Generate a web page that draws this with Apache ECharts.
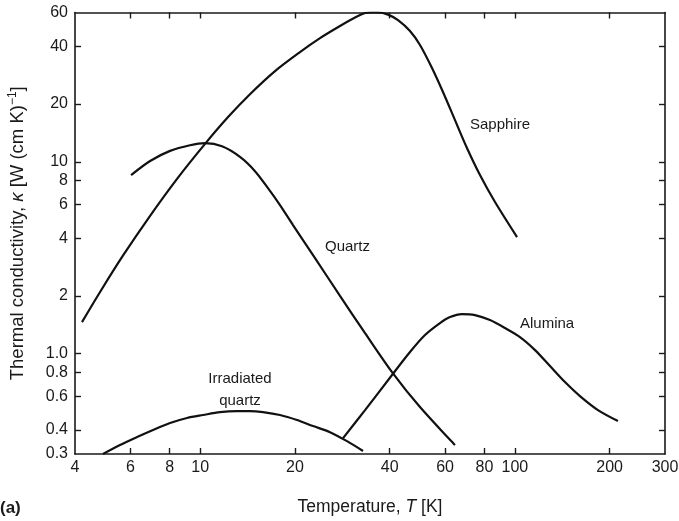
<!DOCTYPE html>
<html>
<head>
<meta charset="utf-8">
<script src="https://cdn.jsdelivr.net/npm/echarts@6/dist/echarts.min.js"></script>
<style>
html,body{margin:0;padding:0;background:#fff;}
#c{width:679px;height:521px;}
</style>
</head>
<body>
<div id="c"></div>
<script>
// Tick values
const xTicks = [4, 6, 8, 10, 20, 40, 60, 80, 100, 200, 300];
const yTicks = [0.3, 0.4, 0.6, 0.8, 1, 2, 4, 6, 8, 10, 20, 40, 60];

// Series data: [Temperature K, thermal conductivity W/(cm K)]
const sapphire = [[4.21,1.46],[4.80,2.09],[5.68,3.24],[6.93,5.23],[8.50,8.27],[10.36,12.4],[12.26,17.1],[14.39,22.5],[17.29,29.7],[20.75,37.3],[24.03,44.1],[27.81,51.0],[31.26,56.8],[33.41,59.6],[34.89,60],[36.73,60],[39.53,58.5],[42.53,54.7],[46.42,48.0],[49.94,40.6],[54.53,30.8],[59.09,23.1],[64.52,16.5],[70.43,11.8],[77.47,8.53],[86.47,6.17],[101.6,4.05]];
const quartz = [[6.03,8.53],[6.93,10.1],[8.02,11.4],[9.28,12.2],[10.36,12.5],[11.73,12.04],[13.38,10.6],[14.93,8.94],[16.42,7.29],[17.93,5.95],[19.72,4.68],[21.53,3.77],[23.17,3.15],[27.81,2.0],[33.41,1.28],[40.7,0.802],[49.94,0.527],[64.52,0.334]];
const alumina = [[28.44,0.363],[33.41,0.508],[40.7,0.774],[46.42,1.02],[51.8,1.25],[57.81,1.443],[62.21,1.551],[67.9,1.608],[74.68,1.589],[83.36,1.496],[93.01,1.36],[103.8,1.22],[115.9,1.044],[129.3,0.862],[144.3,0.711],[161.0,0.601],[183.7,0.508],[212.6,0.4455]];
const irradiatedQuartz = [[4.91,0.3],[5.56,0.334],[6.30,0.3675],[7.08,0.40],[8.02,0.435],[9.08,0.462],[10.21,0.479],[11.56,0.496],[13.09,0.502],[14.39,0.502],[15.83,0.496],[17.93,0.479],[20.3,0.451],[22.83,0.4195],[25.85,0.39],[29.28,0.35],[32.92,0.311]];

const FONT = '"Liberation Sans", Arial, Helvetica, sans-serif';
const INK = '#1a1a1a';

function fmt(v){
  const r = Math.round(v*100)/100;
  if (r === 1) return '1.0';
  return String(r);
}

const axisLine = {show:true, lineStyle:{color:INK, width:1.6}};
function richName(fs){
  return {
    n:{fontSize:fs,fontFamily:FONT,color:INK},
    i:{fontSize:fs,fontFamily:FONT,color:INK,fontStyle:'italic'},
    s:{fontSize:Math.round(fs*0.65),fontFamily:FONT,color:INK,padding:[0,0,9,0]}
  };
}
function xAx(pos, showLabel){
  return {
    type:'log', position:pos, min:4, max:300, logBase:10,
    axisLine: axisLine,
    splitLine:{show:false},
    minorTick:{show:false},
    axisTick:{show:true, inside:true, length:6, customValues: xTicks.slice(1,-1), lineStyle:{color:INK, width:1.4}},
    axisLabel:{show:showLabel, customValues: xTicks, formatter: fmt, margin:6, color:INK, fontSize:16, fontFamily:FONT},
    name: showLabel ? '{n|Temperature, }{i|T}{n| [K]}' : '',
    nameLocation:'middle', nameGap:44,
    nameTextStyle:{rich:richName(17.5)}
  };
}
function yAx(pos, showLabel){
  return {
    type:'log', position:pos, min:0.3, max:60, logBase:10,
    axisLine: axisLine,
    splitLine:{show:false},
    minorTick:{show:false},
    axisTick:{show:true, inside:true, length:6, customValues: yTicks.slice(1,-1), lineStyle:{color:INK, width:1.4}},
    axisLabel:{show:showLabel, customValues: yTicks, formatter: fmt, margin:7, color:INK, fontSize:16, fontFamily:FONT},
    name: showLabel ? '{n|Thermal conductivity, }{i|κ}{n| [W (cm K)}{s|−1}{n|]}' : '',
    nameLocation:'middle', nameGap:47, nameTextStyle:{rich:richName(18.5), padding:[0,0,0,0]}
  };
}

function line(name, data){
  return {name, type:'line', data, xAxisIndex:0, yAxisIndex:0, smooth:0.3, symbol:'none',
    lineStyle:{color:'#111', width:2.2}, clip:true, silent:true};
}

const chart = echarts.init(document.getElementById('c'));
chart.setOption({
  animation:false,
  backgroundColor:'#fff',
  grid:{left:75, right:14, top:12.5, bottom:67, outerBoundsMode:'none'},
  xAxis:[xAx('bottom', true), xAx('top', false)],
  yAxis:[yAx('left', true), yAx('right', false)],
  series:[
    line('Sapphire', sapphire),
    line('Quartz', quartz),
    line('Alumina', alumina),
    line('Irradiated quartz', irradiatedQuartz)
  ],
  graphic:[
    {type:'text', x:470, y:125, style:{text:'Sapphire', font:'15px '+FONT, fill:INK, textVerticalAlign:'middle'}},
    {type:'text', x:325, y:247, style:{text:'Quartz', font:'15px '+FONT, fill:INK, textVerticalAlign:'middle'}},
    {type:'text', x:520, y:324, style:{text:'Alumina', font:'15px '+FONT, fill:INK, textVerticalAlign:'middle'}},
    {type:'text', x:240, y:379, style:{text:'Irradiated', font:'15px '+FONT, fill:INK, textAlign:'center', textVerticalAlign:'middle'}},
    {type:'text', x:240, y:401, style:{text:'quartz', font:'15px '+FONT, fill:INK, textAlign:'center', textVerticalAlign:'middle'}},
    {type:'text', x:0, y:508, style:{text:'(a)', font:'bold 17px '+FONT, fill:INK, textVerticalAlign:'middle'}}
  ]
});
</script>
</body>
</html>
